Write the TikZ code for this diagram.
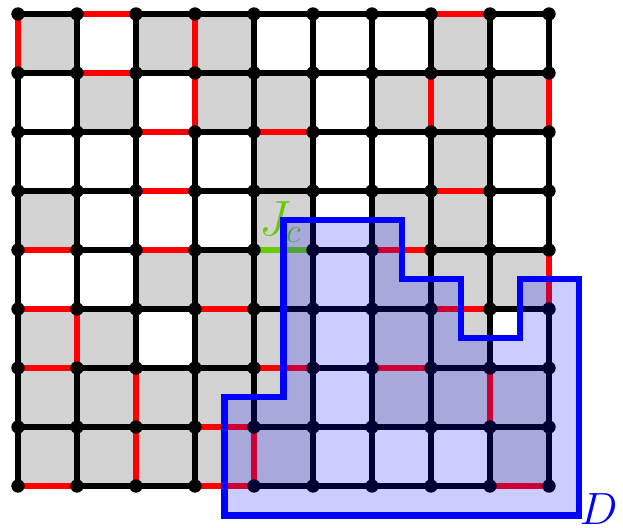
\documentclass[tikz,border=0pt]{standalone}
\usepackage{amsmath,amssymb}
\usepackage{xcolor}
\usepackage{tikz}
\usetikzlibrary{calc}

\definecolor{cellgray}{RGB}{210,210,210}
\definecolor{jgreen}{RGB}{102,204,0}

\begin{document}
\begin{tikzpicture}[line width=3.2pt,
		edge/.style={black},
		redge/.style={red},
		dot/.style={fill=black}]
		
		\useasboundingbox (-0.305,-0.695) rectangle (10.254,8.237);
		
		% 1. 格点坐标 p<i>-<j>
		\foreach \i in {0,...,9}
		\foreach \j in {0,...,8}
		\coordinate (p\i-\j) at (\i,\j);
		
		% 2. 灰色格子 (左下角)
		\foreach \c/\r in {0/7,2/7,3/7,7/7,
			1/6,3/6,4/6,6/6,7/6,8/6,
			4/5,7/5,
			0/4,4/4,6/4,7/4,
			2/3,3/3,4/3,6/3,7/3,8/3,
			0/2,1/2,3/2,4/2,6/2,7/2,
			0/1,1/1,2/1,3/1,4/1,6/1,7/1,8/1,
			0/0,1/0,2/0,3/0,4/0,8/0}
		\fill[cellgray] (p\c-\r) rectangle ++(1,1);
		
		% 3. 黑色网格
		\foreach \j in {0,...,8}
		\draw[edge] (p0-\j) -- (p9-\j);
		\foreach \i in {0,...,9}
		\draw[edge] (p\i-0) -- (p\i-8);
		
		% 4. 红色横边 (起点 i/j)
		\foreach \i/\j in {1/8,7/8,1/7,2/6,4/6,2/5,7/5,0/4,2/4,6/4,
			0/3,3/3,7/3,0/2,4/2,6/2,3/1,0/0,3/0,8/0}
		{\pgfmathtruncatemacro{\k}{\i+1}
			\draw[redge] (p\i-\j) -- (p\k-\j);}
		
		% 5. 红色竖边 (起点 i/j)
		\foreach \i/\j in {0/7,3/7,3/6,7/6,9/6,9/3,1/2,2/1,8/1,2/0,4/0}
		{\pgfmathtruncatemacro{\k}{\j+1}
			\draw[redge] (p\i-\j) -- (p\i-\k);}
		
		% 6. 绿色边 J_c
		\draw[jgreen] (p4-4) -- (p5-4);
		
		% 7. 格点
		\foreach \i in {0,...,9}
		\foreach \j in {0,...,8}
		\fill[dot] (p\i-\j) circle (0.113);
		
		\node[jgreen, inner sep=0pt, font=\huge, scale=1.15] (Jc) at (4.45,4.47) {$J_c$};
		
		% 8. 区域 D
		\fill[blue, fill opacity=0.2] (4.5,4.5) -- (6.5,4.5) -- (6.5,3.5) -- (7.5,3.5)
		-- (7.5,2.5) -- (8.5,2.5) -- (8.5,3.5) -- (9.5,3.5) -- (9.5,-0.5)
		-- (3.5,-0.5) -- (3.5,1.5) -- (4.5,1.5) -- cycle;
		\draw[blue, line width=2.9pt] (4.5,4.5) -- (6.5,4.5) -- (6.5,3.5) -- (7.5,3.5)
		-- (7.5,2.5) -- (8.5,2.5) -- (8.5,3.5) -- (9.5,3.5) -- (9.5,-0.5)
		-- (3.5,-0.5) -- (3.5,1.5) -- (4.5,1.5) -- cycle;
		
		\node[blue, inner sep=0pt, font=\huge, scale=1.05] (Dlab) at (9.84,-0.39) {$D$};
		
	\end{tikzpicture}
\end{document}
